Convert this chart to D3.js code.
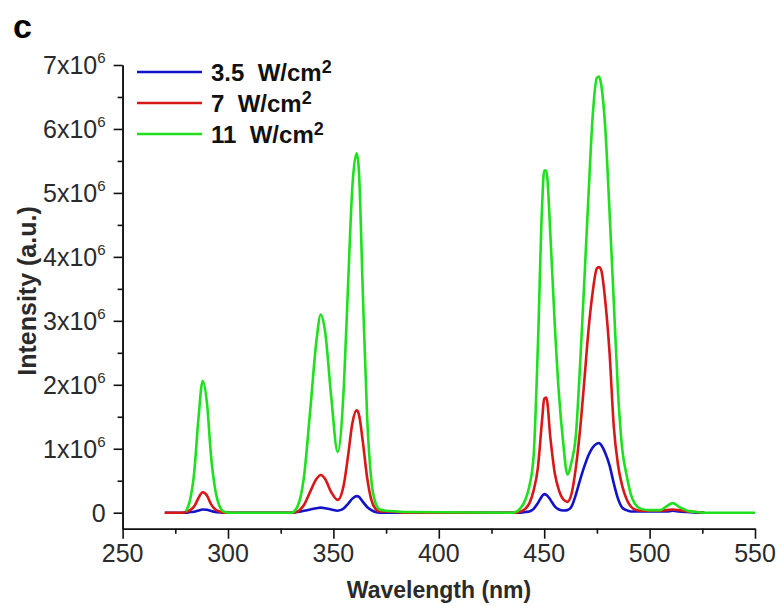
<!DOCTYPE html>
<html>
<head>
<meta charset="utf-8">
<script src="https://cdn.jsdelivr.net/npm/d3@7"></script>
<style>
  body { margin: 0; background: #fff; }
  svg text { font-family: "Liberation Sans", Arial, sans-serif; }
</style>
</head>
<body>
<svg id="chart" width="777" height="606"></svg>
<script>
// wavelength grid (nm), shared by the three spectra
const wavelengths = [
  270, 278, 280, 282, 284, 286, 288, 290, 292, 294, 296, 298, 301,
  330, 333, 336, 339, 342, 344, 346, 349, 352, 355, 357, 359, 361, 362, 364, 366, 368, 370, 372, 375, 380, 385,
  435, 437, 439, 441, 443, 445, 447, 449, 450, 451, 453, 455, 457, 459, 461, 463, 465, 467, 469, 471, 473, 475, 476,
  477, 479, 481, 483, 485, 487, 489, 491, 493, 496, 500, 505, 508, 511, 514, 518, 522, 526, 540, 550
];

// intensities in units of 1e6 (null = not drawn)
const green11 = [
  null, null, 0.02, 0.2, 0.64, 1.48, 2.06, 1.72, 0.87, 0.35, 0.1, 0.02, 0,
  0, 0.1, 0.55, 1.6, 2.7, 3.1, 2.85, 1.8, 0.95, 2.0, 3.6, 5.1, 5.62, 5.4, 3.4, 1.5, 0.5, 0.15, 0.05, 0.03, 0.02, 0.01,
  0, 0.02, 0.08, 0.2, 0.42, 0.9, 2.6, 4.8, 5.35, 5.35, 4.3, 2.95, 1.85, 1.1, 0.6, 0.8, 1.2, 2.3, 3.6, 4.95, 6.2, 6.8, 6.82,
  6.7, 6.0, 4.7, 3.3, 1.9, 1.0, 0.6, 0.3, 0.14, 0.06, 0.04, 0.04, 0.1, 0.15, 0.09, 0.03, 0.01, 0, 0, 0
];
const red7 = [
  0, 0, 0.01, 0.04, 0.1, 0.23, 0.32, 0.27, 0.13, 0.05, 0.02, 0, 0,
  0, 0.02, 0.12, 0.33, 0.53, 0.59, 0.53, 0.32, 0.2, 0.45, 0.9, 1.4, 1.6, 1.55, 1.1, 0.55, 0.2, 0.06, 0.02, 0.02, 0.01, 0,
  0, 0, 0.02, 0.06, 0.15, 0.35, 0.7, 1.45, 1.78, 1.8, 1.15, 0.62, 0.35, 0.21, 0.17, 0.3, 0.7, 1.29, 2.05, 2.85, 3.45, 3.82, 3.84,
  3.8, 3.3, 2.5, 1.35, 0.75, 0.42, 0.22, 0.1, 0.05, 0.03, 0.03, 0.03, 0.04, 0.05, 0.04, 0.02, 0.01, 0, null, null
];
const blue35 = [
  0, 0, 0, 0.01, 0.015, 0.035, 0.05, 0.045, 0.025, 0.01, 0.005, 0, 0,
  0, 0.01, 0.03, 0.05, 0.07, 0.08, 0.07, 0.05, 0.03, 0.07, 0.14, 0.22, 0.26, 0.25, 0.17, 0.09, 0.04, 0.01, 0, 0, 0, 0,
  0, 0, 0, 0.01, 0.02, 0.06, 0.15, 0.26, 0.29, 0.28, 0.2, 0.1, 0.05, 0.035, 0.04, 0.1, 0.28, 0.51, 0.72, 0.9, 1.02, 1.08, 1.09,
  1.06, 0.93, 0.74, 0.46, 0.22, 0.08, 0.04, 0.02, 0.02, 0.02, 0.02, 0.02, 0.02, 0.03, 0.02, 0.01, 0, 0, null, null
];

const seriesNames = ['3.5', '7', '11'];
const seriesColors = ['#1212c8', '#d81818', '#1ee01e'];
const seriesValues = [blue35, red7, green11];

const xTicks = [250, 300, 350, 400, 450, 500, 550];
const xMinorTicks = [275, 325, 375, 425, 475, 525];
const yTicks = [0, 1, 2, 3, 4, 5, 6, 7];
const yMinorTicks = [0.5, 1.5, 2.5, 3.5, 4.5, 5.5, 6.5];

const svg = d3.select('#chart');

const x = d3.scaleLinear().domain([250, 550]).range([122.6, 755]);
const y = d3.scaleLinear().domain([-0.25, 7]).range([528.7, 65]);

const axisColor = '#111';
const labelColor = '#2a2a2a';

// x axis
const gx = svg.append('g').attr('transform', `translate(0,${y.range()[0]})`);
gx.call(d3.axisBottom(x).tickValues(xTicks).tickSize(10).tickSizeOuter(0).tickFormat(''));
gx.append('g').call(d3.axisBottom(x).tickValues(xMinorTicks).tickSize(5).tickSizeOuter(0).tickFormat(''));
gx.selectAll('path, line').attr('stroke', axisColor).attr('stroke-width', 1.6);
gx.selectAll('.x-label').data(xTicks).enter().append('text')
  .attr('x', (d) => x(d))
  .attr('y', 33)
  .attr('text-anchor', 'middle')
  .attr('fill', labelColor)
  .style('font-size', '25px')
  .text((d) => d);

// y axis
const gy = svg.append('g').attr('transform', `translate(${x.range()[0]},0)`);
gy.call(d3.axisLeft(y).tickValues(yTicks).tickSize(9).tickSizeOuter(0).tickFormat(''));
gy.append('g').call(d3.axisLeft(y).tickValues(yMinorTicks).tickSize(5).tickSizeOuter(0).tickFormat(''));
gy.selectAll('path, line').attr('stroke', axisColor).attr('stroke-width', 1.6);
const yLab = gy.selectAll('.y-label').data(yTicks).enter().append('text')
  .attr('x', -17)
  .attr('y', (d) => y(d) + 9)
  .attr('text-anchor', 'end')
  .attr('fill', labelColor)
  .style('font-size', '25px');
yLab.each(function(d) {
  const t = d3.select(this);
  if (d === 0) {
    t.text('0');
  } else {
    t.append('tspan').text(d + 'x10');
    t.append('tspan').attr('dy', -11).style('font-size', '15px').text('6');
  }
});

// spectra
const line = d3.line()
  .defined((d) => d[1] !== null)
  .x((d) => x(d[0]))
  .y((d) => y(d[1]))
  .curve(d3.curveMonotoneX);

seriesValues.forEach((vals, i) => {
  svg.append('path')
    .datum(wavelengths.map((w, j) => [w, vals[j]]))
    .attr('fill', 'none')
    .attr('stroke', seriesColors[i])
    .attr('stroke-width', 2.6)
    .attr('stroke-linejoin', 'round')
    .attr('d', line);
});

// legend
const legend = svg.append('g');
seriesNames.forEach((name, i) => {
  const ly = 72 + i * 31;
  legend.append('line')
    .attr('x1', 137).attr('x2', 202)
    .attr('y1', ly).attr('y2', ly)
    .attr('stroke', seriesColors[i])
    .attr('stroke-width', 2.6);
  const t = legend.append('text')
    .attr('x', 211)
    .attr('y', ly + 9)
    .attr('fill', '#111')
    .style('font-size', '24px')
    .style('font-weight', 'bold');
  t.append('tspan').text(name + '\u00a0 W/cm');
  t.append('tspan').attr('dy', -8).style('font-size', '18px').text('2');
});

// axis titles
svg.append('text')
  .attr('x', 439).attr('y', 598)
  .attr('text-anchor', 'middle')
  .attr('fill', labelColor)
  .style('font-size', '23px')
  .style('font-weight', 'bold')
  .text('Wavelength (nm)');

svg.append('text')
  .attr('transform', 'translate(36,291) rotate(-90)')
  .attr('text-anchor', 'middle')
  .attr('fill', labelColor)
  .style('font-size', '25px')
  .style('font-weight', 'bold')
  .text('Intensity (a.u.)');

// panel letter
svg.append('text')
  .attr('x', 13).attr('y', 38)
  .attr('fill', '#000')
  .style('font-size', '34px')
  .style('font-weight', 'bold')
  .text('c');
</script>
</body>
</html>
